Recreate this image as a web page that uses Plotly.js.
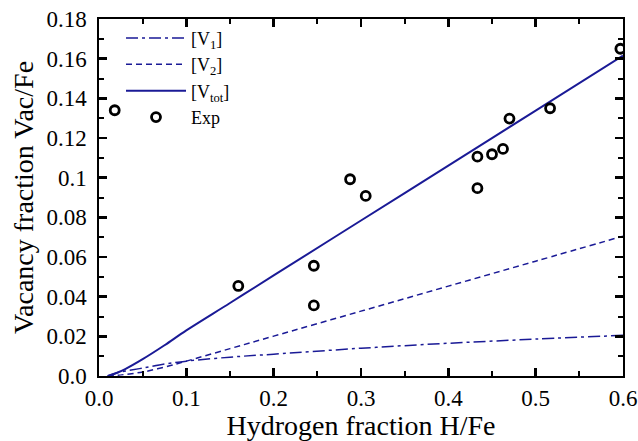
<!DOCTYPE html>
<html>
<head>
<meta charset="utf-8">
<script src="https://cdn.plot.ly/plotly-3.0.1.min.js"></script>
<style>html,body{margin:0;padding:0;background:#fff;}#chart{width:638px;height:441px;}</style>
</head>
<body>
<div id="chart"></div>
<script>
// Model curves
const modelX = [0.01, 0.02, 0.03, 0.05, 0.075, 0.1, 0.15, 0.2, 0.3, 0.4, 0.5, 0.6];
const v1 =     [0.0, 0.0015, 0.0025, 0.004, 0.006, 0.0075, 0.0095, 0.011, 0.014, 0.0165, 0.0186, 0.0205];
const v2 =     [0.0, 0.0003, 0.0008, 0.002, 0.0045, 0.0075, 0.0138, 0.0201, 0.0327, 0.0453, 0.0579, 0.0705];
const vtot =   [0.0, 0.0015, 0.0035, 0.0085, 0.0155, 0.023, 0.0368, 0.0507, 0.0784, 0.1061, 0.1338, 0.1615];

// Experimental points
const expX = [0.018, 0.1595, 0.246, 0.246, 0.2875, 0.3054, 0.4333, 0.4333, 0.450, 0.4626, 0.470, 0.5165, 0.597];
const expY = [0.134, 0.0454, 0.0556, 0.0356, 0.0992, 0.0908, 0.1106, 0.0947, 0.1118, 0.1145, 0.1298, 0.135, 0.165];

// Tick label aliases
const zeroLabel = {"0": "0.0", "0\u00a0": "0.0\u00a0"};

const blue = "#1a1a96";
const serif = "'Liberation Serif', 'Times New Roman', serif";

const traces = [
  {x: modelX, y: v1, mode: "lines", name: "[V<sub>1</sub>]", line: {color: blue, width: 1.5, dash: "12px,4px,3px,4px", shape: "spline"}},
  {x: modelX, y: v2, mode: "lines", name: "[V<sub>2</sub>]", line: {color: blue, width: 1.5, dash: "6px,4px", shape: "spline"}},
  {x: modelX, y: vtot, mode: "lines", name: "[V<sub>tot</sub>]", line: {color: blue, width: 2, shape: "spline"}},
  {x: expX, y: expY, mode: "markers", name: "Exp",
   marker: {symbol: "circle-open", size: 9, color: "#000", line: {width: 2.8, color: "#000"}}}
];

function axis(range, dtick, minorDtick, titleText, standoff, suffix) {
  return {
    range: range, tickmode: "linear", tick0: 0, dtick: dtick, labelalias: zeroLabel,
    ticksuffix: suffix,
    showline: true, linecolor: "#000", linewidth: 2, mirror: "all",
    ticks: "inside", ticklen: 8, tickwidth: 2.5, tickcolor: "#000",
    showgrid: false, zeroline: false,
    tickfont: {family: serif, size: 23, color: "#000"},
    minor: {dtick: minorDtick, ticks: "inside", ticklen: 5, tickwidth: 2, tickcolor: "#000", showgrid: false},
    title: {text: titleText, font: {family: serif, size: 28, color: "#000"}, standoff: standoff}
  };
}

const layout = {
  width: 638, height: 441,
  margin: {l: 99, r: 15, t: 19, b: 65},
  paper_bgcolor: "#fff", plot_bgcolor: "#fff",
  showlegend: true,
  legend: {x: 0.042, y: 0.998, xanchor: "left", yanchor: "top", bgcolor: "rgba(0,0,0,0)",
           font: {family: serif, size: 18, color: "#000"}, itemwidth: 60, tracegroupgap: 0},
  xaxis: axis([0, 0.6], 0.1, 0.05, "Hydrogen fraction H/Fe", 8, ""),
  yaxis: axis([0, 0.18], 0.02, 0.01, "Vacancy fraction Vac/Fe", 5, "\u00a0")
};

Plotly.newPlot("chart", traces, layout, {displayModeBar: false, staticPlot: true});
</script>
</body>
</html>
